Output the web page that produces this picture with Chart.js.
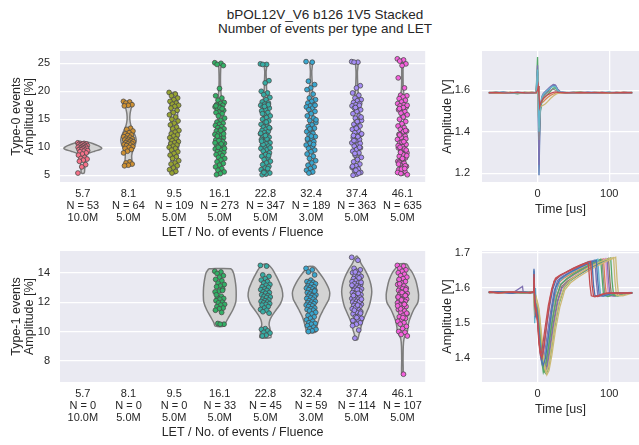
<!DOCTYPE html>
<html>
<head>
<meta charset="utf-8">
<script src="https://cdn.jsdelivr.net/npm/chart.js@4.4.1/dist/chart.umd.min.js"></script>
<style>
  body { margin: 0; background: #fff; width: 639px; height: 445px; overflow: hidden; position: relative;
         font-family: "Liberation Sans", Arial, sans-serif; color: #262626; }
  #title { position: absolute; left: 125px; width: 400px; top: 8px; text-align: center; font-size: 13.5px; line-height: 14px; }
  canvas { position: absolute; }
</style>
</head>
<body>
<div id="title">bPOL12V_V6 b126 1V5 Stacked<br>Number of events per type and LET</div>
<canvas id="c0" width="430" height="197" style="left:0;top:45px"></canvas>
<canvas id="c1" width="209" height="197" style="left:430px;top:45px"></canvas>
<canvas id="c2" width="430" height="197" style="left:0;top:245px"></canvas>
<canvas id="c3" width="209" height="197" style="left:430px;top:245px"></canvas>
<script>
// categories and labels
const letValues = ['5.7', '8.1', '9.5', '16.1', '22.8', '32.4', '37.4', '46.1'];
const fluence = ['10.0M', '5.0M', '5.0M', '5.0M', '5.0M', '3.0M', '5.0M', '5.0M'];
const type0Counts = [53, 64, 109, 273, 347, 189, 363, 635];
const type1Counts = [0, 0, 0, 33, 45, 59, 114, 107];
const type0Ticks = [5, 10, 15, 20, 25];
const type1Ticks = [8, 10, 12, 14];
const wave0Ticks = [1.2, 1.4, 1.6];
const wave1Ticks = [1.4, 1.5, 1.6, 1.7];
const timeTicks = [0, 100];

// Type-0 amplitudes [%] per LET
const t0Let5_7 = [10.8,10.7,10.7,10.6,10.6,10.5,10.4,10.4,10.3,10.2,10.2,10.1,10.0,10.0,9.9,9.8,9.8,9.7,9.6,9.5,9.5,9.4,9.3,9.2,9.0,8.8,8.6,8.2,8.0,7.9,7.7,7.5,6.9,6.5,5.4];
const t0Let8_1 = [18.2,18.1,17.9,17.6,17.5,17.4,13.4,13.2,12.9,12.6,12.4,12.2,12.1,11.9,11.8,11.6,11.5,11.4,11.3,11.2,11.1,11.0,10.9,10.8,10.7,10.6,10.5,10.4,10.3,10.1,10.0,9.8,9.6,9.3,9.0,7.4,7.2,7.0,6.8,6.7];
const t0Let9_5 = [19.8,19.5,19.2,18.8,18.5,18.2,17.9,17.7,17.5,17.3,17.0,16.6,16.2,15.8,15.4,15.0,14.7,14.3,14.0,13.6,13.3,13.0,12.7,12.4,12.2,12.0,11.7,11.5,11.2,11.0,10.8,10.6,10.4,10.2,10.0,9.8,9.5,9.2,8.9,8.6,8.3,8.0,7.6,7.2,7.0,6.7,6.3,6.0,5.7,5.4];
const t0Let16_1 = [25.1,25.0,24.8,24.6,20.5,19.2,18.8,18.4,18.0,17.8,17.6,17.5,17.3,17.2,17.0,16.8,16.6,16.4,16.2,16.0,15.6,15.2,14.8,14.5,14.3,14.1,13.9,13.7,13.5,13.3,13.1,12.9,12.7,12.5,12.3,12.1,11.9,11.7,11.5,11.3,11.1,10.9,10.7,10.5,10.3,10.1,9.9,9.7,9.5,9.3,9.1,8.9,8.7,8.5,8.2,8.0,7.7,7.4,7.1,6.8,6.5,6.2,5.9,5.6,5.3,5.1,11.0,11.2,10.8,10.6,12.0,12.4,17.1,17.4,16.9,10.0,9.8,13.0];
const t0Let22_8 = [24.9,24.8,24.8,21.9,21.5,20.0,19.7,19.4,18.9,18.5,18.1,17.9,17.7,17.5,17.4,17.2,17.0,16.8,16.5,16.2,15.9,15.6,15.3,15.0,14.7,14.4,14.1,13.8,13.6,13.4,13.2,13.0,12.8,12.6,12.4,12.2,12.0,11.8,11.6,11.4,11.2,11.0,10.8,10.6,10.4,10.2,10.0,9.8,9.6,9.3,9.0,8.7,8.4,8.1,7.8,7.5,7.2,6.9,6.6,6.3,6.0,5.8,5.6,5.4,5.2,5.1,17.6,17.3,12.5,11.5,10.5,13.5,12.1,11.1,6.2,5.5,9.9,14.5,16.0,8.5];
const t0Let32_4 = [25.3,25.2,21.8,21.2,20.6,20.3,19.5,18.8,18.5,18.2,17.9,17.6,17.4,17.2,17.0,16.7,16.4,16.0,15.6,15.2,14.8,14.4,14.0,13.7,13.4,13.1,12.8,12.5,12.2,11.9,11.6,11.3,11.0,10.7,10.4,10.1,9.8,9.5,9.2,8.8,8.4,8.0,7.6,7.2,6.8,6.5,6.2,5.9,5.6,5.4,17.5,12.0,11.5,10.5,13.3,14.9];
const t0Let37_4 = [25.3,25.2,25.2,21.0,20.6,19.7,19.3,18.8,18.5,18.3,18.0,17.8,17.6,17.4,17.2,17.0,16.7,16.4,16.0,15.6,15.2,14.8,14.4,14.1,13.8,13.5,13.2,12.9,12.6,12.3,12.0,11.7,11.4,11.1,10.8,10.5,10.2,9.9,9.6,9.3,9.0,8.6,8.2,7.8,7.4,7.0,6.7,6.4,6.1,5.8,5.5,5.2,5.0,17.5,17.1,12.4,11.9,11.2,10.7,13.4,6.6,5.4,8.9,15.4,14.6,12.1,10.0,5.9];
const t0Let46_1 = [25.8,25.6,25.4,24.9,24.6,22.4,20.6,19.3,19.2,19.0,18.7,18.4,18.1,17.8,17.6,17.4,17.2,17.0,16.7,16.4,16.1,15.8,15.4,15.0,14.6,14.2,13.8,13.5,13.2,12.9,12.6,12.3,12.0,11.7,11.4,11.1,10.8,10.5,10.2,9.9,9.6,9.3,9.0,8.7,8.4,8.1,7.8,7.5,7.2,6.9,6.6,6.3,6.0,5.7,5.4,5.1,12.8,12.2,11.5,10.9,10.3,9.7,9.1,8.5,7.9,7.3,6.7,6.1,5.5,11.0,10.0,9.5,8.0,7.0,6.2,5.3,17.5,17.1,16.9,13.0];

// Type-1 amplitudes [%] per LET (no events below 16.1)
const t1Let16_1 = [14.1,14.05,13.95,13.8,13.7,13.55,13.45,13.3,13.2,13.1,13.05,12.9,12.75,12.7,12.4,12.3,12.25,12.2,12.1,12.0,11.95,11.85,11.8,11.7,11.6,11.55,11.45,11.3,10.55,10.5,10.5,12.5,12.8];
const t1Let22_8 = [14.5,14.45,13.85,13.75,13.6,13.5,13.4,13.3,13.2,13.15,13.05,13.0,12.9,12.85,12.8,12.7,12.65,12.6,12.5,12.45,12.4,12.35,12.3,12.2,12.15,12.1,12.05,12.0,11.95,11.9,11.85,11.8,11.7,11.6,11.5,11.45,11.35,11.25,10.2,10.15,10.05,9.95,9.9,9.75,9.7];
const t1Let32_4 = [14.3,14.2,14.05,13.85,13.5,13.4,13.35,13.3,13.25,13.2,13.1,13.05,13.0,12.95,12.9,12.85,12.8,12.7,12.65,12.6,12.55,12.5,12.45,12.4,12.35,12.3,12.25,12.2,12.1,12.05,12.0,11.95,11.9,11.85,11.8,11.75,11.7,11.6,11.55,11.5,11.45,11.4,11.3,11.2,11.1,11.0,10.9,10.8,10.7,10.6,10.55,10.5,10.4,10.3,10.2,10.15,10.05,10.0,12.75];
const t1Let37_4 = [15.05,14.85,14.3,14.2,14.1,14.0,13.9,13.8,13.75,13.7,13.6,13.5,13.45,13.4,13.3,13.25,13.2,13.1,13.05,13.0,12.95,12.9,12.85,12.8,12.75,12.7,12.65,12.6,12.55,12.5,12.45,12.4,12.35,12.3,12.25,12.2,12.15,12.1,12.05,12.0,11.95,11.9,11.85,11.8,11.75,11.7,11.6,11.55,11.5,11.4,11.35,11.3,11.2,11.1,11.0,10.9,10.8,10.7,10.6,10.5,10.4,10.1,9.55,13.35,12.85,12.45,12.05,11.65,13.15,12.6,11.45,11.25,10.95,10.75,13.65,14.05,12.2,11.8];
const t1Let46_1 = [14.5,14.45,14.3,14.2,14.1,14.0,13.9,13.8,13.7,13.6,13.5,13.4,13.3,13.2,13.1,13.0,12.95,12.9,12.8,12.75,12.7,12.6,12.55,12.5,12.45,12.4,12.35,12.3,12.25,12.2,12.15,12.1,12.05,12.0,11.95,11.9,11.8,11.7,11.6,11.5,11.4,11.3,11.2,11.1,11.0,10.9,10.8,10.7,10.6,10.5,10.35,10.2,10.0,9.95,9.8,9.7,7.1,13.25,12.85,12.65,12.35,11.85,11.55,11.25,10.95,13.55,12.45,12.15,11.75];

// violin outlines: [amplitude, half width in category units]
const v0Let5_7 = [[10.9,0.12],[10.6,0.24],[10.3,0.33],[10.0,0.40],[9.8,0.415],[9.6,0.38],[9.3,0.26],[9.0,0.15],[8.6,0.08],[8.0,0.06],[7.5,0.06],[7.0,0.05],[6.5,0.045],[6.0,0.04],[5.4,0.03]];
const v0Let8_1 = [[18.2,0.05],[17.6,0.08],[17.0,0.06],[16.0,0.035],[15.0,0.03],[14.0,0.05],[13.0,0.1],[12.0,0.15],[11.3,0.17],[10.5,0.15],[9.5,0.1],[8.5,0.07],[7.5,0.075],[6.7,0.05]];
const v0Let9_5 = [[19.8,0.05],[18.5,0.07],[17.5,0.09],[16.5,0.08],[15.5,0.075],[14.5,0.07],[13.5,0.075],[12.5,0.085],[11.5,0.1],[10.5,0.105],[9.5,0.09],[8.5,0.075],[7.5,0.07],[6.5,0.065],[5.4,0.05]];
const v0Let16_1 = [[25.1,0.03],[24.0,0.02],[22.0,0.015],[20.5,0.02],[19.0,0.035],[17.5,0.06],[16.5,0.055],[15.5,0.045],[14.5,0.05],[13.0,0.06],[11.5,0.07],[10.5,0.07],[9.0,0.055],[8.0,0.045],[7.0,0.045],[6.0,0.045],[5.1,0.035]];
const v0Let22_8 = [[24.9,0.03],[23.5,0.015],[22.0,0.02],[20.5,0.025],[19.0,0.04],[17.5,0.06],[16.0,0.06],[14.5,0.06],[13.0,0.065],[11.5,0.07],[10.5,0.07],[9.0,0.055],[7.5,0.05],[6.0,0.05],[5.1,0.04]];
const v0Let32_4 = [[25.2,0.03],[23.5,0.015],[21.5,0.025],[20.0,0.03],[18.5,0.045],[17.0,0.06],[15.5,0.05],[14.0,0.05],[12.5,0.06],[11.0,0.065],[9.5,0.055],[8.0,0.045],[6.5,0.045],[5.3,0.035]];
const v0Let37_4 = [[25.2,0.03],[23.5,0.015],[21.5,0.02],[20.0,0.03],[18.5,0.05],[17.0,0.065],[15.5,0.055],[14.0,0.055],[12.5,0.06],[11.0,0.065],[9.5,0.055],[8.0,0.045],[6.5,0.045],[5.1,0.035]];
const v0Let46_1 = [[25.8,0.02],[24.5,0.015],[22.5,0.015],[20.5,0.02],[19.0,0.04],[17.5,0.05],[16.0,0.045],[14.5,0.045],[13.0,0.05],[11.5,0.06],[10.0,0.065],[8.5,0.065],[7.0,0.06],[5.8,0.055],[5.1,0.04]];
const v1Let16_1 = [[14.27,0.24],[14.0,0.3],[13.5,0.335],[13.0,0.355],[12.5,0.36],[12.0,0.35],[11.5,0.29],[11.0,0.2],[10.6,0.13],[10.37,0.1]];
const v1Let22_8 = [[14.62,0.0],[14.55,0.06],[14.3,0.14],[14.0,0.2],[13.7,0.25],[13.3,0.31],[12.9,0.36],[12.4,0.38],[11.9,0.33],[11.5,0.24],[11.1,0.15],[10.8,0.1],[10.5,0.08],[10.2,0.1],[9.9,0.11],[9.6,0.12]];
const v1Let32_4 = [[14.45,0.0],[14.4,0.07],[14.2,0.13],[14.0,0.18],[13.7,0.25],[13.3,0.33],[12.9,0.39],[12.6,0.41],[12.2,0.39],[11.9,0.34],[11.5,0.27],[11.0,0.19],[10.5,0.14],[10.1,0.11],[9.95,0.1]];
const v1Let37_4 = [[15.15,0.0],[15.0,0.04],[14.6,0.1],[14.2,0.18],[13.7,0.26],[13.2,0.31],[12.7,0.33],[12.2,0.31],[11.7,0.27],[11.2,0.2],[10.8,0.145],[10.4,0.1],[10.1,0.08],[9.8,0.05],[9.45,0.02]];
const v1Let46_1 = [[14.6,0.09],[14.3,0.15],[14.0,0.22],[13.5,0.29],[13.0,0.33],[12.5,0.355],[12.0,0.34],[11.5,0.25],[11.0,0.18],[10.7,0.145],[10.3,0.12],[10.0,0.11],[9.75,0.07],[9.5,0.035],[9.0,0.02],[8.0,0.015],[7.1,0.015]];

// Type-0 waveforms: shared time base [us], amplitude [V]
const wave0Time = [-68,-58,-48,-38,-28,-18,-8,-2,0,1,2,3,4,6,8,11,14,18,22,25,28,32,40,50,60,70,80,90,100,110,120,132];
const w0Blue = [1.590,1.586,1.592,1.587,1.589,1.585,1.590,1.588,1.66,1.45,1.19,1.38,1.50,1.56,1.575,1.585,1.595,1.61,1.625,1.622,1.605,1.592,1.588,1.590,1.586,1.589,1.591,1.587,1.589,1.586,1.590,1.588];
const w0Green = [1.588,1.591,1.586,1.589,1.583,1.590,1.587,1.589,1.76,1.62,1.33,1.42,1.50,1.545,1.56,1.57,1.58,1.595,1.61,1.612,1.60,1.59,1.587,1.589,1.591,1.586,1.588,1.590,1.585,1.589,1.587,1.590];
const w0Cyan = [1.587,1.589,1.591,1.585,1.588,1.590,1.586,1.590,1.70,1.55,1.40,1.47,1.53,1.565,1.58,1.59,1.60,1.612,1.62,1.618,1.60,1.591,1.589,1.586,1.590,1.588,1.585,1.589,1.591,1.587,1.588,1.586];
const w0Yellow = [1.589,1.585,1.588,1.590,1.587,1.589,1.591,1.587,1.67,1.50,1.42,1.49,1.52,1.525,1.528,1.535,1.545,1.56,1.572,1.58,1.585,1.588,1.590,1.587,1.589,1.586,1.590,1.588,1.586,1.590,1.589,1.587];
const w0Purple = [1.586,1.590,1.588,1.586,1.591,1.587,1.589,1.588,1.72,1.52,1.24,1.43,1.52,1.57,1.585,1.595,1.605,1.618,1.628,1.625,1.605,1.592,1.588,1.590,1.587,1.591,1.586,1.589,1.587,1.591,1.586,1.589];
const w0Orange = [1.588,1.587,1.590,1.588,1.586,1.589,1.588,1.589,1.64,1.56,1.47,1.50,1.53,1.54,1.545,1.555,1.565,1.575,1.582,1.586,1.588,1.589,1.587,1.589,1.590,1.587,1.589,1.586,1.590,1.588,1.587,1.589];
const w0Grey = [1.590,1.588,1.585,1.590,1.588,1.586,1.589,1.587,1.69,1.58,1.36,1.46,1.54,1.555,1.57,1.58,1.59,1.60,1.605,1.60,1.595,1.59,1.586,1.588,1.589,1.590,1.587,1.588,1.589,1.585,1.591,1.588];
const w0Red = [1.588,1.589,1.587,1.588,1.590,1.588,1.587,1.588,1.60,1.62,1.57,1.52,1.535,1.55,1.56,1.57,1.578,1.585,1.59,1.592,1.59,1.589,1.588,1.587,1.589,1.588,1.588,1.589,1.587,1.588,1.589,1.588];

// Type-1 waveforms: [time us, amplitude V]
const w1Red = [[-68,1.590],[-55,1.586],[-40,1.589],[-25,1.587],[-12,1.588],[-6,1.589],[-5,1.63],[-4,1.56],[-2,1.54],[0,1.50],[2,1.44],[4,1.41],[6,1.42],[10,1.48],[15,1.55],[20,1.60],[25,1.628],[32,1.638],[40,1.645],[50,1.655],[60,1.664],[68,1.671],[71,1.668],[73,1.61],[75,1.578],[80,1.575],[90,1.583],[100,1.586],[115,1.585],[132,1.587]];
const w1Red2 = [[-68,1.588],[-50,1.587],[-35,1.589],[-20,1.588],[-10,1.586],[-6,1.589],[-5,1.64],[-4,1.55],[-2,1.53],[0,1.51],[2,1.45],[4,1.415],[6,1.40],[9,1.43],[13,1.50],[18,1.575],[23,1.62],[30,1.634],[40,1.646],[50,1.657],[60,1.666],[70,1.674],[74,1.676],[76,1.61],[78,1.578],[84,1.576],[94,1.585],[110,1.586],[132,1.586]];
const w1Blue = [[-68,1.588],[-55,1.590],[-40,1.586],[-25,1.589],[-12,1.587],[-6,1.588],[-5,1.655],[-4,1.58],[-3,1.52],[-1,1.53],[1,1.49],[3,1.43],[5,1.40],[7,1.41],[11,1.47],[16,1.54],[21,1.595],[26,1.625],[33,1.637],[42,1.648],[52,1.658],[62,1.667],[72,1.676],[76,1.674],[78,1.61],[80,1.579],[86,1.577],[96,1.585],[110,1.586],[122,1.584],[132,1.587]];
const w1Blue2 = [[-68,1.589],[-50,1.588],[-35,1.586],[-20,1.589],[-10,1.588],[-6,1.587],[-5,1.65],[-4,1.57],[-2,1.545],[0,1.52],[2,1.47],[4,1.42],[6,1.39],[8,1.38],[11,1.40],[15,1.46],[20,1.54],[25,1.60],[31,1.625],[40,1.638],[50,1.65],[60,1.66],[70,1.669],[78,1.676],[82,1.679],[84,1.62],[86,1.58],[92,1.577],[104,1.585],[118,1.587],[132,1.585]];
const w1Purple = [[-68,1.587],[-50,1.589],[-35,1.586],[-21,1.605],[-20,1.588],[-12,1.589],[-6,1.587],[-5,1.64],[-4,1.57],[-2,1.53],[0,1.51],[2,1.46],[4,1.41],[6,1.385],[9,1.40],[13,1.46],[18,1.53],[23,1.59],[28,1.622],[35,1.634],[45,1.646],[55,1.657],[65,1.667],[75,1.677],[80,1.68],[82,1.62],[84,1.58],[90,1.577],[100,1.584],[115,1.586],[132,1.585]];
const w1Purple2 = [[-68,1.588],[-50,1.586],[-35,1.589],[-20,1.587],[-10,1.588],[-6,1.588],[-5,1.62],[-4,1.55],[-2,1.565],[0,1.545],[2,1.52],[4,1.47],[7,1.405],[10,1.365],[13,1.37],[17,1.42],[22,1.49],[28,1.56],[34,1.60],[42,1.617],[52,1.63],[62,1.643],[72,1.655],[82,1.666],[92,1.676],[97,1.681],[99,1.62],[101,1.58],[107,1.577],[118,1.585],[132,1.586]];
const w1Cyan = [[-68,1.589],[-50,1.587],[-35,1.590],[-20,1.586],[-10,1.588],[-6,1.589],[-5,1.62],[-4,1.50],[-3,1.60],[-2,1.55],[0,1.52],[2,1.47],[4,1.43],[7,1.39],[10,1.40],[14,1.45],[19,1.52],[24,1.58],[30,1.618],[37,1.632],[47,1.645],[57,1.656],[67,1.666],[77,1.676],[84,1.682],[86,1.62],[88,1.58],[94,1.578],[105,1.585],[118,1.586],[132,1.588]];
const w1Green = [[-68,1.588],[-50,1.590],[-35,1.587],[-20,1.589],[-10,1.586],[-6,1.588],[-5,1.61],[-4,1.55],[-2,1.545],[0,1.53],[2,1.49],[4,1.44],[6,1.39],[8,1.36],[11,1.38],[15,1.43],[20,1.50],[26,1.57],[32,1.61],[40,1.626],[50,1.64],[60,1.652],[70,1.663],[80,1.674],[88,1.682],[90,1.63],[92,1.58],[98,1.576],[108,1.585],[120,1.587],[132,1.586]];
const w1Orange = [[-68,1.587],[-50,1.588],[-35,1.590],[-20,1.586],[-10,1.589],[-6,1.588],[-5,1.62],[-4,1.56],[-2,1.54],[0,1.52],[2,1.48],[4,1.43],[6,1.40],[8,1.39],[11,1.41],[15,1.46],[20,1.53],[26,1.59],[31,1.618],[38,1.63],[48,1.642],[58,1.653],[68,1.663],[78,1.673],[88,1.681],[92,1.683],[94,1.62],[96,1.58],[102,1.578],[112,1.586],[132,1.587]];
const w1Grey = [[-68,1.587],[-50,1.589],[-35,1.587],[-20,1.588],[-10,1.589],[-6,1.587],[-5,1.62],[-4,1.54],[-2,1.55],[0,1.53],[2,1.50],[4,1.45],[7,1.395],[9,1.37],[12,1.385],[16,1.44],[21,1.515],[27,1.58],[33,1.612],[42,1.627],[52,1.64],[62,1.652],[72,1.663],[82,1.673],[90,1.68],[92,1.62],[94,1.58],[100,1.577],[110,1.585],[132,1.587]];
const w1Pink = [[-68,1.589],[-50,1.586],[-35,1.588],[-20,1.590],[-10,1.587],[-6,1.588],[-5,1.60],[-4,1.54],[-2,1.55],[0,1.535],[2,1.50],[4,1.45],[7,1.39],[9,1.375],[12,1.39],[16,1.44],[21,1.51],[27,1.575],[33,1.61],[40,1.624],[50,1.637],[60,1.649],[70,1.66],[80,1.67],[90,1.679],[95,1.684],[97,1.62],[99,1.58],[105,1.577],[116,1.585],[132,1.586]];
const w1Brown = [[-68,1.588],[-50,1.589],[-35,1.586],[-20,1.588],[-10,1.590],[-6,1.587],[-5,1.61],[-4,1.53],[-2,1.56],[0,1.54],[2,1.51],[4,1.46],[7,1.40],[10,1.365],[13,1.38],[17,1.43],[22,1.50],[28,1.565],[34,1.605],[42,1.62],[52,1.633],[62,1.645],[72,1.656],[82,1.667],[92,1.677],[99,1.685],[101,1.62],[103,1.58],[109,1.578],[120,1.586],[132,1.587]];
const w1Green2 = [[-68,1.587],[-50,1.589],[-35,1.588],[-20,1.586],[-10,1.588],[-6,1.589],[-5,1.63],[-4,1.52],[-2,1.57],[0,1.55],[2,1.53],[4,1.48],[7,1.41],[10,1.36],[12,1.355],[15,1.37],[19,1.42],[24,1.49],[30,1.555],[37,1.60],[45,1.62],[55,1.635],[65,1.648],[75,1.66],[85,1.671],[95,1.68],[102,1.686],[104,1.62],[106,1.58],[112,1.577],[124,1.585],[132,1.587]];
const w1Yellow2 = [[-68,1.589],[-50,1.587],[-35,1.588],[-20,1.589],[-10,1.587],[-6,1.589],[-5,1.61],[-4,1.52],[-2,1.57],[0,1.555],[2,1.535],[4,1.49],[7,1.425],[10,1.37],[12,1.358],[15,1.375],[19,1.425],[24,1.495],[30,1.56],[37,1.602],[45,1.622],[55,1.637],[65,1.65],[75,1.662],[85,1.673],[95,1.681],[106,1.687],[108,1.62],[110,1.58],[116,1.578],[126,1.586],[132,1.587]];
const w1Yellow = [[-68,1.588],[-50,1.586],[-35,1.589],[-20,1.587],[-10,1.589],[-6,1.588],[-5,1.60],[-4,1.53],[-2,1.575],[0,1.56],[2,1.54],[4,1.50],[7,1.44],[10,1.38],[13,1.353],[16,1.365],[20,1.41],[25,1.48],[31,1.545],[38,1.595],[46,1.615],[56,1.63],[66,1.643],[76,1.655],[86,1.666],[96,1.676],[104,1.683],[109,1.688],[111,1.62],[113,1.58],[119,1.578],[132,1.586]];

const huslColors = ['#f77189', '#ce9032', '#97a431', '#32b166', '#36ada4', '#39a7d0', '#a48cf4', '#f561dd'];
const INK = '#262626';

Chart.defaults.font.family = '"Liberation Sans", Arial, sans-serif';
Chart.defaults.color = INK;

// grey axes background like seaborn darkgrid
const axesBg = {
  id: 'axesBg',
  beforeDraw(chart) {
    const a = chart.chartArea, ctx = chart.ctx;
    ctx.save();
    ctx.fillStyle = '#EAEAF2';
    ctx.fillRect(a.left, a.top, a.right - a.left, a.bottom - a.top);
    ctx.restore();
  }
};

const fixedTicks = values => scale => { scale.ticks = values.map(v => ({ value: v })); };
const jitter = k => ((k * 0.618034) % 1 - 0.5) * 0.22;

function yAxis(min, max, ticks, title, width, titlePad, tickPad) {
  return {
    type: 'linear', min, max,
    afterBuildTicks: fixedTicks(ticks),
    afterFit: s => { s.width = width; s.paddingTop = 0; s.paddingBottom = 0; },
    border: { display: false },
    grid: { color: '#ffffff', lineWidth: 1.3, drawTicks: false },
    ticks: { padding: tickPad, font: { size: 11 }, color: INK },
    title: { display: true, text: title, color: INK, font: { size: 12.5, lineHeight: 1 }, padding: { top: titlePad, bottom: 0 } }
  };
}

function letAxis(counts) {
  return {
    type: 'linear', min: -0.5, max: 7.5,
    afterBuildTicks: fixedTicks(letValues.map((_, i) => i)),
    afterFit: s => { s.height = 60; s.paddingLeft = 0; s.paddingRight = 0; },
    border: { display: false },
    grid: { display: false, drawTicks: false },
    ticks: { padding: 6, autoSkip: false, maxRotation: 0, color: INK, font: { size: 11, lineHeight: 1.1 },
             callback: v => [letValues[v], 'N = ' + counts[v], fluence[v]] },
    title: { display: true, text: 'LET / No. of events / Fluence', color: INK, font: { size: 12.5, lineHeight: 1.2 }, padding: { top: 0, bottom: 2 } }
  };
}

const timeAxis = () => ({
  type: 'linear', min: -77.5, max: 141.5,
  afterBuildTicks: fixedTicks(timeTicks),
  afterFit: s => { s.height = 60; s.paddingLeft = 0; s.paddingRight = 0; },
  border: { display: false },
  grid: { color: '#ffffff', lineWidth: 1.3, drawTicks: false },
  ticks: { padding: 6, maxRotation: 0, color: INK, font: { size: 11, lineHeight: 1.1 } },
  title: { display: true, text: 'Time [us]', color: INK, font: { size: 12.5, lineHeight: 1.2 }, padding: { top: 0, bottom: 25 } }
});

function violin(outline, i) {
  const left = outline.map(([v, w]) => ({ x: i - w, y: v }));
  const right = outline.slice().reverse().map(([v, w]) => ({ x: i + w, y: v }));
  return { data: [...left, ...right, left[0]], showLine: true, fill: 'shape', tension: 0.3,
           backgroundColor: '#d3d3d3', borderColor: '#7d7d7d', borderWidth: 1.5, pointRadius: 0, order: 3 };
}

function strip(values, i) {
  return { data: values.map((v, k) => ({ x: i + jitter(k), y: v })), pointRadius: 2.4,
           backgroundColor: huslColors[i], borderColor: '#4a4a4a', borderWidth: 0.8, order: 1 };
}

function baseOptions(x, y) {
  return {
    responsive: false, animation: false,
    layout: { padding: { top: 6, right: 0, bottom: 0, left: 0 } },
    plugins: { legend: { display: false }, tooltip: { enabled: false } },
    scales: { x, y }
  };
}

function violinChart(id, amps, shapes, counts, yMin, yMax, ticks, title) {
  const datasets = [];
  shapes.forEach((s, i) => { if (s) datasets.push(violin(s, i)); });
  amps.forEach((a, i) => { if (a) datasets.push(strip(a, i)); });
  new Chart(document.getElementById(id), {
    type: 'scatter', data: { datasets },
    options: baseOptions(letAxis(counts), yAxis(yMin, yMax, ticks, title, 60, 10.75, 10)),
    plugins: [axesBg]
  });
}

function waveChart(id, traces, yMin, yMax, ticks) {
  const n = traces.length;
  const datasets = traces.map(([pts, color], k) => ({
    data: pts.map(([x, y]) => ({ x, y })), showLine: true, borderColor: color,
    borderWidth: 1.3, pointRadius: 0, order: n - k
  }));
  new Chart(document.getElementById(id), {
    type: 'scatter', data: { datasets },
    options: baseOptions(timeAxis(), yAxis(yMin, yMax, ticks, 'Amplitude [V]', 52, 11.25, 12)),
    plugins: [axesBg]
  });
}

violinChart('c0',
  [t0Let5_7, t0Let8_1, t0Let9_5, t0Let16_1, t0Let22_8, t0Let32_4, t0Let37_4, t0Let46_1],
  [v0Let5_7, v0Let8_1, v0Let9_5, v0Let16_1, v0Let22_8, v0Let32_4, v0Let37_4, v0Let46_1],
  type0Counts, 3.8, 27.2, type0Ticks, ['Type-0 events', 'Amplitude [%]']);

violinChart('c2',
  [null, null, null, t1Let16_1, t1Let22_8, t1Let32_4, t1Let37_4, t1Let46_1],
  [null, null, null, v1Let16_1, v1Let22_8, v1Let32_4, v1Let37_4, v1Let46_1],
  type1Counts, 6.57, 15.48, type1Ticks, ['Type-1 events', 'Amplitude [%]']);

const withTime = vals => vals.map((v, i) => [wave0Time[i], v]);
waveChart('c1', [
  [withTime(w0Blue), '#4C72B0'], [withTime(w0Orange), '#DD8452'], [withTime(w0Green), '#55A868'],
  [withTime(w0Purple), '#8172B3'], [withTime(w0Grey), '#8C8C8C'], [withTime(w0Yellow), '#CCB974'],
  [withTime(w0Cyan), '#64B5CD'], [withTime(w0Red), '#C44E52']
], 1.158, 1.789, wave0Ticks);

waveChart('c3', [
  [w1Orange, '#DD8452'], [w1Purple, '#8172B3'], [w1Pink, '#DA8BC3'], [w1Brown, '#937860'],
  [w1Grey, '#8C8C8C'], [w1Purple2, '#8172B3'], [w1Green, '#55A868'], [w1Cyan, '#64B5CD'],
  [w1Green2, '#55A868'], [w1Yellow2, '#CCB974'], [w1Yellow, '#CCB974'],
  [w1Blue2, '#4C72B0'], [w1Blue, '#4C72B0'], [w1Red2, '#C44E52'], [w1Red, '#C44E52']
], 1.3325, 1.7057, wave1Ticks);
</script>
</body>
</html>
